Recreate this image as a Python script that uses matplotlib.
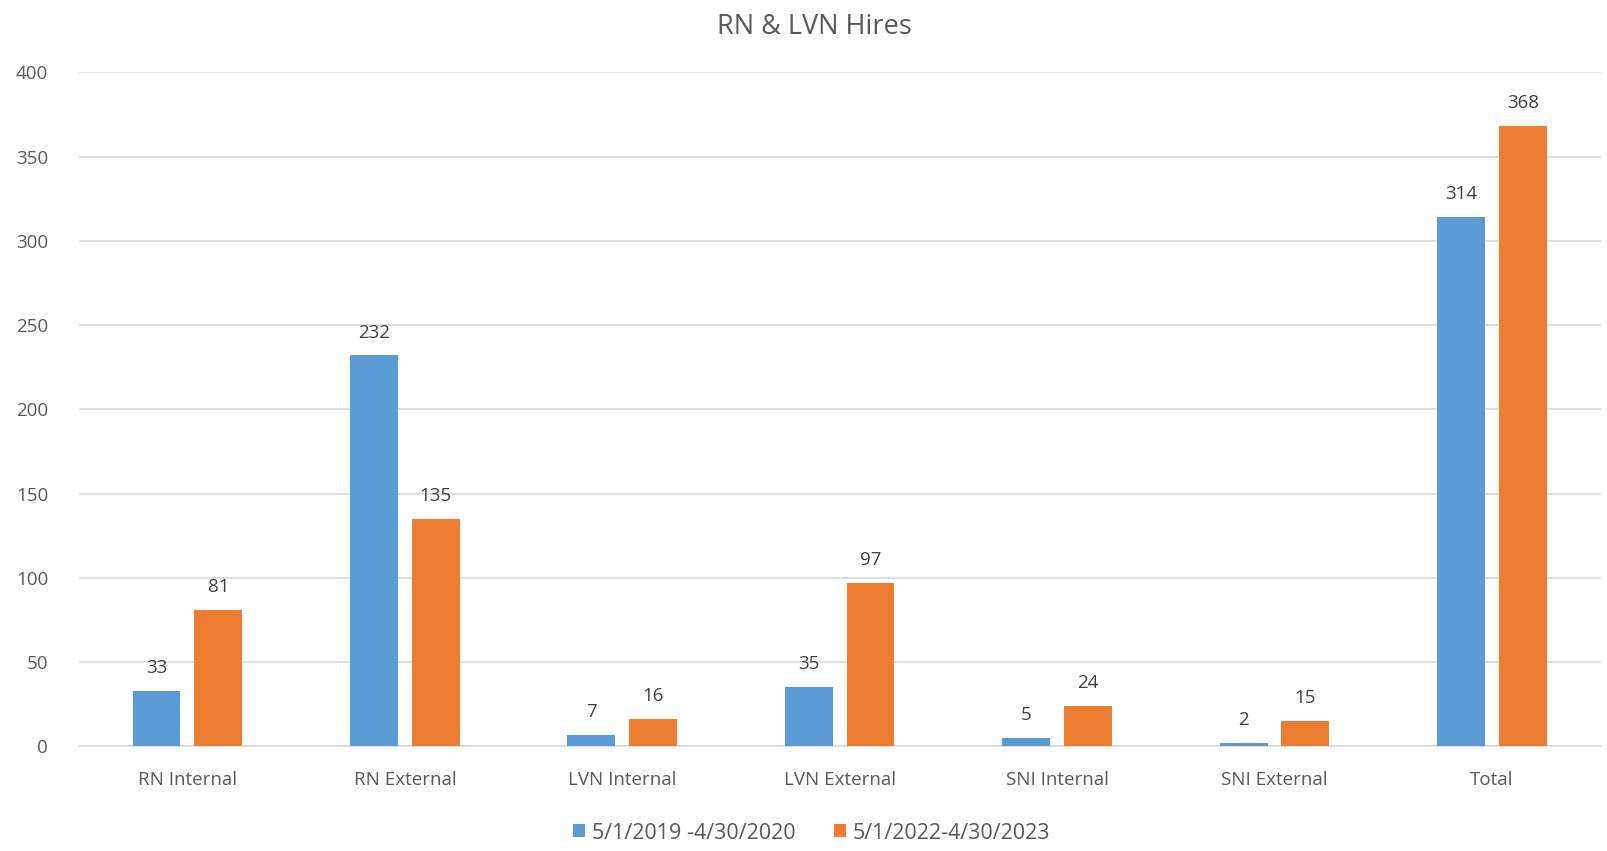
import matplotlib.pyplot as plt
import numpy as np

categories = ['RN Internal', 'RN External', 'LVN Internal', 'LVN External',
              'SNI Internal', 'SNI External', 'Total']
period_2019 = [33, 232, 7, 35, 5, 2, 314]
period_2022 = [81, 135, 16, 97, 24, 15, 368]
series_labels = ['5/1/2019 -4/30/2020', '5/1/2022-4/30/2023']
yticks = [0, 50, 100, 150, 200, 250, 300, 350, 400]

blue = '#5B9BD5'
orange = '#ED7D31'
text_col = '#595959'

plt.rcParams['font.family'] = ['Open Sans', 'DejaVu Sans']

fig = plt.figure(figsize=(16.07, 8.51), dpi=100)
ax = fig.add_axes([0.049, 0.123, 0.947, 0.792])

x = np.arange(len(categories))
w = 0.22
off = 0.142
b1 = ax.bar(x - off, period_2019, w, color=blue, label=series_labels[0], zorder=3)
b2 = ax.bar(x + off, period_2022, w, color=orange, label=series_labels[1], zorder=3)

for bars in (b1, b2):
    for rect in bars:
        h = rect.get_height()
        ax.annotate(f'{int(h)}', (rect.get_x() + rect.get_width() / 2, h),
                    xytext=(0, 10), textcoords='offset points',
                    ha='center', va='bottom', fontsize=13.5, color='#404040')

ax.set_xlim(-0.5, len(categories) - 0.5)
ax.set_ylim(0, 400)
ax.set_yticks(yticks)
ax.set_xticks(x)
ax.set_xticklabels(categories)
ax.tick_params(axis='both', length=0, labelsize=13.5, labelcolor=text_col)
ax.tick_params(axis='y', pad=22)
ax.tick_params(axis='x', pad=18)
ax.grid(axis='y', color='#D9D9D9', linewidth=1.2, zorder=0)
for s in ['top', 'right', 'left']:
    ax.spines[s].set_visible(False)
ax.spines['bottom'].set_color('#D9D9D9')
ax.spines['bottom'].set_linewidth(1.2)

fig.suptitle('RN & LVN Hires', x=0.507, y=0.985, fontsize=19.5, color=text_col, va='top')

fig.legend(loc='lower center', bbox_to_anchor=(0.505, -0.014), ncol=2, frameon=False,
           fontsize=15.5, labelcolor=text_col, handlelength=0.55, handleheight=0.55,
           handletextpad=0.3, columnspacing=1.8)

fig.savefig('out.png', dpi=100)
